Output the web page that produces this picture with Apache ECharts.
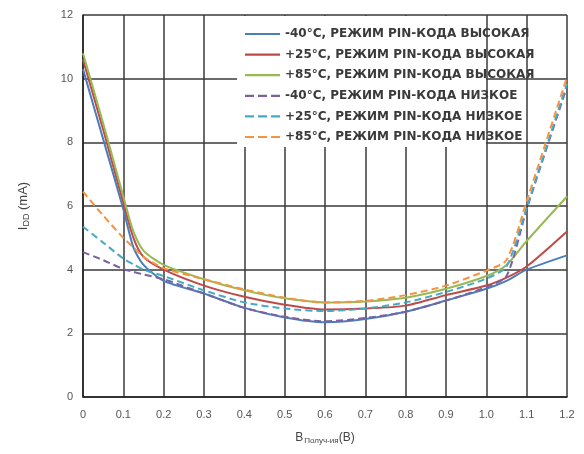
<!DOCTYPE html>
<html>
<head>
<meta charset="utf-8">
<script src="https://cdn.jsdelivr.net/npm/echarts@6/dist/echarts.min.js"></script>
<style>html,body{margin:0;padding:0;background:#fff}#c{width:584px;height:454px}</style>
</head>
<body>
<div id="c"></div>
<script>
// X positions (В) shared by all curves
var xVals = [0, 0.05, 0.1, 0.125, 0.15, 0.2, 0.3, 0.4, 0.5, 0.6, 0.7, 0.8, 0.9, 1.0, 1.05, 1.1, 1.2];
// I_DD (mA) values
var m40High = [10.3, 8.1, 5.9, 4.7, 4.15, 3.65, 3.25, 2.8, 2.5, 2.35, 2.45, 2.68, 3.03, 3.4, 3.65, 4.0, 4.45];
var p25High = [10.6, 8.4, 6.1, 5.0, 4.4, 4.0, 3.5, 3.15, 2.9, 2.75, 2.78, 2.87, 3.2, 3.5, 3.75, 4.1, 5.2];
var p85High = [10.8, 8.6, 6.3, 5.2, 4.6, 4.15, 3.7, 3.35, 3.1, 2.97, 3.0, 3.12, 3.4, 3.8, 4.15, 4.9, 6.3];
var m40Low  = [4.55, 4.3, 4.02, 3.93, 3.85, 3.7, 3.25, 2.8, 2.52, 2.38, 2.48, 2.68, 3.03, 3.45, 3.8, 5.9, 9.75];
var p25Low  = [5.35, 4.85, 4.35, 4.17, 4.0, 3.8, 3.35, 2.97, 2.78, 2.7, 2.78, 2.97, 3.3, 3.72, 4.1, 5.95, 9.85];
var p85Low  = [6.45, 5.7, 5.0, 4.7, 4.4, 4.05, 3.7, 3.38, 3.12, 2.97, 3.02, 3.2, 3.5, 3.97, 4.3, 6.15, 10.05];

var seriesNames = [
  '-40°C, РЕЖИМ PIN-КОДА ВЫСОКАЯ',
  '+25°C, РЕЖИМ PIN-КОДА ВЫСОКАЯ',
  '+85°C, РЕЖИМ PIN-КОДА ВЫСОКАЯ',
  '-40°C, РЕЖИМ PIN-КОДА НИЗКОЕ',
  '+25°C, РЕЖИМ PIN-КОДА НИЗКОЕ',
  '+85°C, РЕЖИМ PIN-КОДА НИЗКОЕ'
];
var xTickLabels = ['0', '0.1', '0.2', '0.3', '0.4', '0.5', '0.6', '0.7', '0.8', '0.9', '1.0', '1.1', '1.2'];
var yTickLabels = ['0', '2', '4', '6', '8', '10', '12'];

var allValues = [m40High, p25High, p85High, m40Low, p25Low, p85Low];
var colors = ['#4A7EBB', '#BE4B48', '#98B954', '#7D60A0', '#46AAC5', '#F69240'];
var dashed = [false, false, false, true, true, true];

var solidIcon = 'path://M0,0h35v2.2h-35z';
var dashIcon = 'path://M0,0h9v2.2h-9zM13,0h9v2.2h-9zM26,0h9v2.2h-9z';

function pairs(ys) { return xVals.map(function (x, i) { return [x, ys[i]]; }); }

var series = allValues.map(function (ys, k) {
  return {
    name: seriesNames[k],
    type: 'line',
    data: pairs(ys),
    smooth: 0.25,
    symbol: 'none',
    z: 3 + (k < 3 ? 0 : 1),
    lineStyle: { color: colors[k], width: 2, type: dashed[k] ? [7, 4] : 'solid' },
    itemStyle: { color: colors[k] }
  };
});

var chart = echarts.init(document.getElementById('c'), null, { renderer: 'canvas' });
chart.setOption({
  animation: false,
  backgroundColor: '#ffffff',
  color: colors,
  grid: { left: 83, right: 17, top: 15, bottom: 57, containLabel: false },
  graphic: [{
    type: 'rect', z: 10,
    shape: { x: 237, y: 16, width: 249, height: 131 },
    style: { fill: '#ffffff' }
  }],
  legend: {
    orient: 'vertical', left: 240, top: 23, z: 20,
    itemWidth: 35, itemHeight: 2.2, itemGap: 8.6,
    itemStyle: { borderWidth: 0 },
    lineStyle: { width: 0 },
    textStyle: { fontFamily: 'DejaVu Sans', fontSize: 12, fontWeight: 'bold', color: '#3a3a3a' },
    data: seriesNames.map(function (n, k) { return { name: n, icon: dashed[k] ? dashIcon : solidIcon }; })
  },
  xAxis: {
    type: 'value', min: 0, max: 1.2, interval: 0.1,
    name: '{b|В}{s|Получ-ия}{b|(В)}', nameLocation: 'middle', nameGap: 34,
    nameTextStyle: { rich: {
      b: { fontFamily: 'Liberation Sans', fontSize: 12, color: '#444' },
      s: { fontFamily: 'Liberation Sans', fontSize: 8, color: '#444', verticalAlign: 'bottom', padding: [6, 0, 0, 1] }
    } },
    axisLine: { show: true, lineStyle: { color: '#222', width: 1.5 } },
    axisTick: { show: false },
    splitLine: { show: true, lineStyle: { color: '#3a3a3a', width: 1.5 } },
    axisLabel: {
      fontFamily: 'Liberation Sans', fontSize: 11, color: '#555', margin: 12,
      formatter: function (v) { return xTickLabels[Math.round(v * 10)]; }
    }
  },
  yAxis: {
    type: 'value', min: 0, max: 12, interval: 2,
    name: '{b|I}{s|DD}{b| (mA)}', nameLocation: 'middle', nameGap: 52, nameRotate: 90,
    nameTextStyle: { rich: {
      b: { fontFamily: 'Liberation Sans', fontSize: 13, color: '#444' },
      s: { fontFamily: 'Liberation Sans', fontSize: 9, color: '#444', verticalAlign: 'bottom', padding: [6, 0, 0, 0] }
    } },
    axisLine: { show: true, lineStyle: { color: '#222', width: 1.5 } },
    axisTick: { show: false },
    splitLine: { show: true, lineStyle: { color: '#3a3a3a', width: 1.5 } },
    axisLabel: {
      fontFamily: 'Liberation Sans', fontSize: 11, color: '#555', margin: 10,
      formatter: function (v) { return yTickLabels[Math.round(v / 2)]; }
    }
  },
  series: series
});
</script>
</body>
</html>
